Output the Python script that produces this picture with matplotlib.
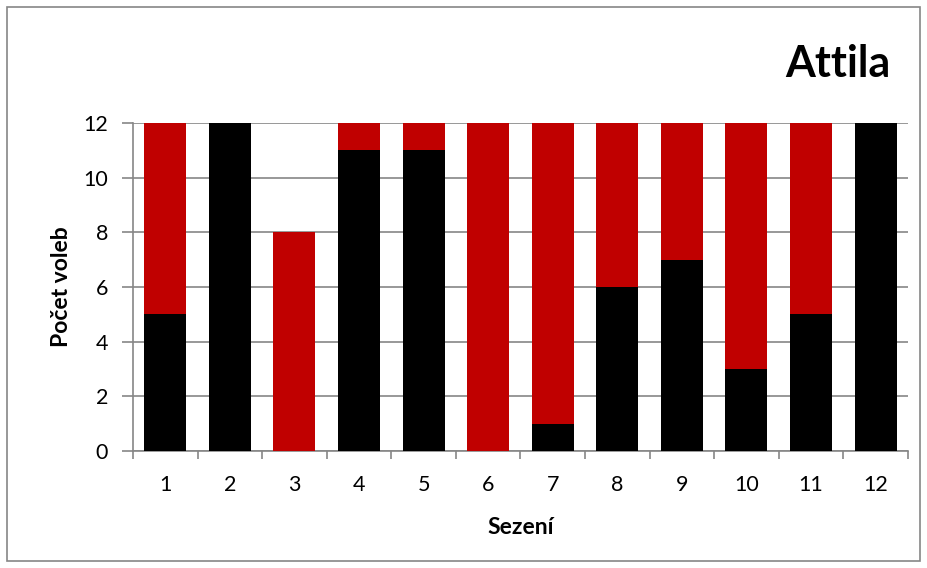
import matplotlib
matplotlib.use("Agg")
import matplotlib.pyplot as plt
from matplotlib.patches import Rectangle

plt.rcParams['font.family'] = ['Lato', 'DejaVu Sans']

sessions = ["1", "2", "3", "4", "5", "6", "7", "8", "9", "10", "11", "12"]
black_votes = [5, 12, 0, 11, 11, 0, 1, 6, 7, 3, 5, 12]
red_votes = [7, 0, 8, 1, 1, 12, 11, 6, 5, 9, 7, 0]
y_ticks = [0, 2, 4, 6, 8, 10, 12]

fig = plt.figure(figsize=(9.28, 5.68), dpi=100)
fig.patch.set_facecolor("white")
fig.patches.append(Rectangle((0.008, 0.013), 0.983, 0.974, transform=fig.transFigure,
                             fill=False, edgecolor="#868686", linewidth=1.2))

ax = fig.add_axes([0.1433, 0.206, 0.835, 0.5775])
x = list(range(len(sessions)))
ax.bar(x, black_votes, width=0.65, color="black", zorder=3)
ax.bar(x, red_votes, width=0.65, bottom=black_votes, color="#C00000", zorder=3)

ax.set_xlim(-0.5, len(sessions) - 0.5)
ax.set_ylim(0, 12)
ax.set_yticks(y_ticks)
ax.set_yticklabels([str(v) for v in y_ticks], fontsize=15.5)
ax.set_xticks(x)
ax.set_xticklabels(sessions, fontsize=15.5)
ax.set_xticks([i - 0.5 for i in range(len(sessions) + 1)], minor=True)
ax.tick_params(axis="x", which="major", length=0, pad=17)
ax.tick_params(axis="x", which="minor", length=6, color="#868686", width=1.2)
ax.tick_params(axis="y", length=8, color="#868686", width=1.2, pad=10)
ax.yaxis.grid(True, color="#868686", linewidth=1.2, zorder=0)
for s in ("top", "right"):
    ax.spines[s].set_visible(False)
for s in ("left", "bottom"):
    ax.spines[s].set_color("#868686")
    ax.spines[s].set_linewidth(1.2)

ax.set_xlabel("Sezení", fontsize=16.5, fontweight="bold", labelpad=16)
ax.set_ylabel("Počet voleb", fontsize=16.5, fontweight="bold", labelpad=8)

fig.text(0.96, 0.888, "Attila", fontsize=31, fontweight="bold", ha="right", va="center")

fig.savefig("out.png", dpi=100)
